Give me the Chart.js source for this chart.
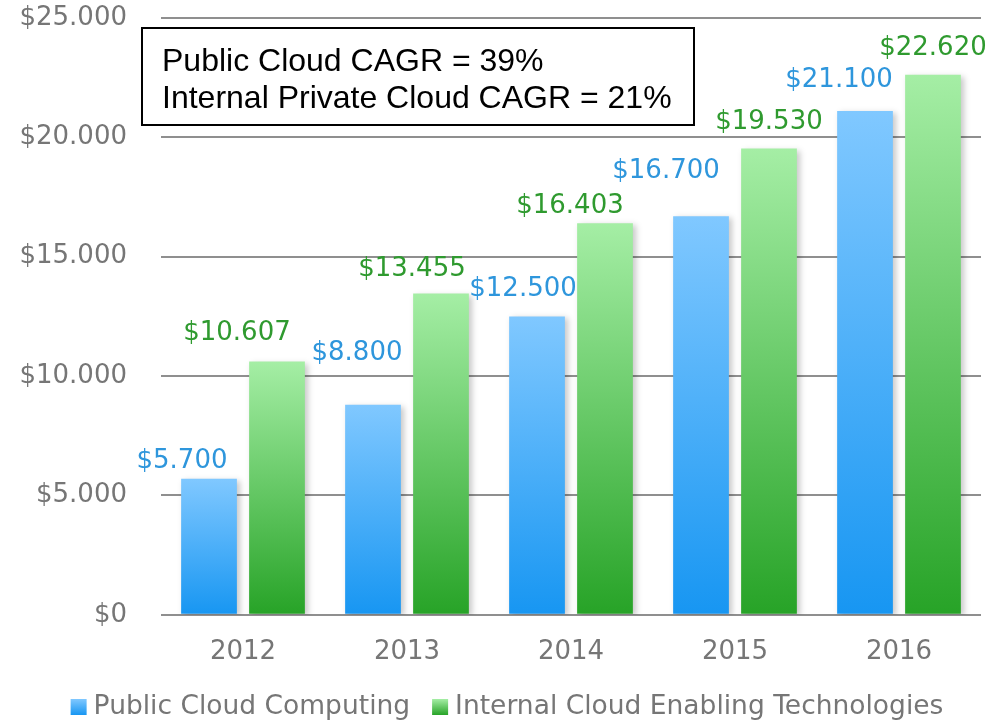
<!DOCTYPE html>
<html>
<head>
<meta charset="utf-8">
<script src="https://cdn.jsdelivr.net/npm/chart.js@4/dist/chart.umd.min.js"></script>
<style>
  html, body { margin: 0; padding: 0; background: #ffffff; }
  #wrap { width: 1003px; height: 721px; position: relative; }
</style>
</head>
<body>
<div id="wrap"><canvas id="c" width="1003" height="721"></canvas></div>
<script>
// ---- data ----
const categories = ['2012', '2013', '2014', '2015', '2016'];
const publicCloud = [5700, 8800, 12500, 16700, 21100];
const internalCloud = [10607, 13455, 16403, 19530, 22620];
const seriesNames = ['Public Cloud Computing', 'Internal Cloud Enabling Technologies'];
const yTicks = [0, 5000, 10000, 15000, 20000, 25000];
const annotationLines = ['Public Cloud CAGR = 39%', 'Internal Private Cloud CAGR = 21%'];

// ---- styles ----
const FONT = '"DejaVu Sans", Verdana, sans-serif';
const GRAY = '#767676';
const gradStops = [
  { top: '#80c8ff', bottom: '#1796f2', label: '#2e96dc' },
  { top: '#a5eea5', bottom: '#27a327', label: '#2f9a2f' }
];
// manual label offsets (px) relative to bar centre/top, as placed in the original
const labelOffsets = [
  [[-27, -17], [-16, -51], [-14, -27], [-35, -45], [-26, -31]],
  [[-40, -28], [-29, -24], [-35, -17], [0, -26], [0, -27]]
];

function fmt(v) {
  return '$' + String(v).replace(/\B(?=(\d{3})+(?!\d))/g, '.');
}

function barGradient(i) {
  return function (c) {
    const ch = c.chart;
    const ya = ch.scales && ch.scales.y;
    if (!ya || c.raw === undefined || !isFinite(ya.getPixelForValue(c.raw))) return gradStops[i].bottom;
    const top = ya.getPixelForValue(c.raw);
    const base = ya.getPixelForValue(0);
    const g = ch.ctx.createLinearGradient(0, top, 0, base);
    g.addColorStop(0, gradStops[i].top);
    g.addColorStop(1, gradStops[i].bottom);
    return g;
  };
}

const barStyle = {
  id: 'barStyle',
  beforeDatasetsDraw(chart) {
    const ctx = chart.ctx;
    ctx.save();
    ctx.shadowColor = 'rgba(0,0,0,0.22)';
    ctx.shadowBlur = 6;
    ctx.shadowOffsetX = 3;
    ctx.shadowOffsetY = 2;
  },
  afterDatasetsDraw(chart) {
    const ctx = chart.ctx;
    ctx.restore();
    // data labels
    ctx.save();
    ctx.font = '26px ' + FONT;
    ctx.textAlign = 'center';
    ctx.textBaseline = 'middle';
    chart.data.datasets.forEach((ds, i) => {
      const meta = chart.getDatasetMeta(i);
      ctx.fillStyle = gradStops[i].label;
      meta.data.forEach((el, j) => {
        const off = labelOffsets[i][j];
        ctx.fillText(fmt(ds.data[j]), el.x + off[0], el.y + off[1]);
      });
    });
    ctx.restore();
  },
  afterDraw(chart) {
    const ctx = chart.ctx;
    // annotation box
    ctx.save();
    ctx.fillStyle = '#ffffff';
    ctx.fillRect(142, 28, 552, 97);
    ctx.strokeStyle = '#000000';
    ctx.lineWidth = 2;
    ctx.strokeRect(142, 28, 552, 97);
    ctx.fillStyle = '#000000';
    ctx.font = '32px "Liberation Sans", Arial, sans-serif';
    ctx.textAlign = 'left';
    ctx.textBaseline = 'alphabetic';
    ctx.fillText(annotationLines[0], 162, 71);
    ctx.fillText(annotationLines[1], 162, 108);
    ctx.restore();

    // legend
    ctx.save();
    ctx.font = '26.5px ' + FONT;
    ctx.textBaseline = 'middle';
    ctx.textAlign = 'left';
    const box = 16, gap = 7, spacing = 22;
    const widths = seriesNames.map(n => ctx.measureText(n).width);
    const total = widths.reduce((a, w) => a + box + gap + w, 0) + spacing;
    let x = 507 - total / 2;
    const cy = 707;
    seriesNames.forEach((n, i) => {
      const g = ctx.createLinearGradient(0, cy - box / 2, 0, cy + box / 2);
      g.addColorStop(0, gradStops[i].top);
      g.addColorStop(1, gradStops[i].bottom);
      ctx.fillStyle = g;
      ctx.fillRect(x, cy - box / 2, box, box);
      x += box + gap;
      ctx.fillStyle = GRAY;
      ctx.fillText(n, x, cy);
      x += widths[i] + spacing;
    });
    ctx.restore();
  }
};

new Chart(document.getElementById('c'), {
  type: 'bar',
  data: {
    labels: categories,
    datasets: [
      { label: seriesNames[0], data: publicCloud, backgroundColor: barGradient(0) },
      { label: seriesNames[1], data: internalCloud, backgroundColor: barGradient(1) }
    ]
  },
  options: {
    responsive: false,
    animation: false,
    devicePixelRatio: 1,
    categoryPercentage: 0.829,
    barPercentage: 0.82,
    layout: { padding: { left: 0, right: 22, top: 18, bottom: 39 } },
    plugins: {
      legend: { display: false },
      tooltip: { enabled: false }
    },
    scales: {
      x: {
        grid: { display: false },
        border: { display: false },
        ticks: { color: GRAY, font: { family: FONT, size: 26 }, padding: 14 }
      },
      y: {
        min: 0,
        max: 25000,
        afterBuildTicks(scale) { scale.ticks = yTicks.map(v => ({ value: v })); },
        afterFit(scale) { scale.width = 161; scale.paddingTop = 0; scale.paddingBottom = 0; },
        border: { display: false },
        grid: { color: '#8f8f8f', lineWidth: 2, drawTicks: false },
        ticks: {
          color: GRAY,
          font: { family: FONT, size: 26 },
          padding: 34,
          callback: v => fmt(v)
        }
      }
    }
  },
  plugins: [barStyle]
});
</script>
</body>
</html>
